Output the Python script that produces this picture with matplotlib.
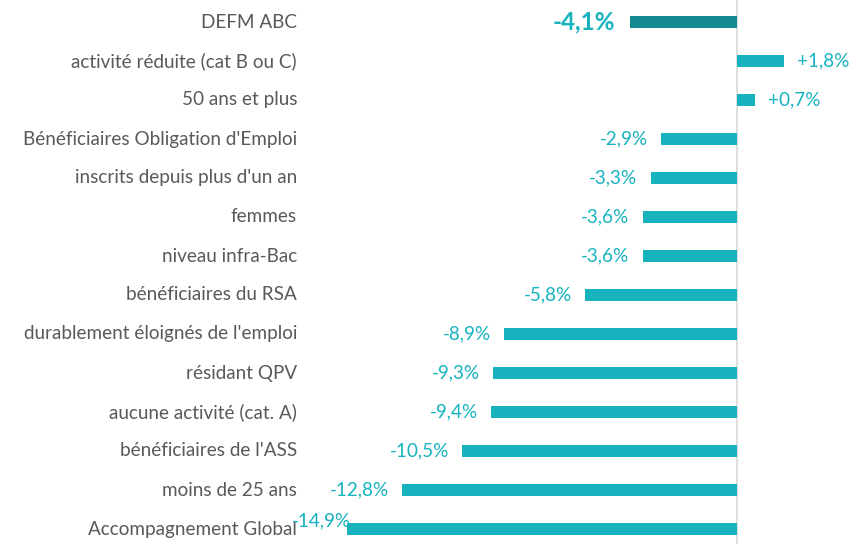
import matplotlib.pyplot as plt

plt.rcParams['font.family'] = ['Lato', 'DejaVu Sans']

categories = ["DEFM ABC", "activité réduite (cat B ou C)", "50 ans et plus",
              "Bénéficiaires Obligation d'Emploi", "inscrits depuis plus d'un an",
              "femmes", "niveau infra-Bac", "bénéficiaires du RSA",
              "durablement éloignés de l'emploi", "résidant QPV",
              "aucune activité (cat. A)", "bénéficiaires de l'ASS",
              "moins de 25 ans", "Accompagnement Global"]
values = [-4.1, 1.8, 0.7, -2.9, -3.3, -3.6, -3.6, -5.8, -8.9, -9.3, -9.4, -10.5, -12.8, -14.9]

teal = '#16b3bf'
dark = '#128a8f'
grey_txt = '#595959'

fig = plt.figure(figsize=(8.66, 5.44), dpi=100)
W, H = 866, 544
left_px, right_px = 300, 860
zero_px, scale = 737, 26.2
ax = fig.add_axes([left_px / W, 0, (right_px - left_px) / W, 1])
ax.set_xlim(-(zero_px - left_px) / scale, (right_px - zero_px) / scale)
ax.set_ylim(13 + (H - 529) / 39.0, -22 / 39.0)

ypos = list(range(len(categories)))
colors = [dark] + [teal] * (len(values) - 1)
ax.barh(ypos, values, height=0.32, color=colors)
ax.axvline(0, color='#d9d9d9', lw=1.2, zorder=0)

for i, (cat, v) in enumerate(zip(categories, values)):
    ax.text(-(zero_px - 297) / scale, i, cat, ha='right', va='center',
            fontsize=13.6, color=grey_txt)
    lab = ('+' if v > 0 else '') + ('%.1f' % v).replace('.', ',') + '%'
    off = 0.5
    if i == 0:
        ax.text(v - 0.55, i, lab, ha='right', va='center', fontsize=17.5,
                fontweight='bold', color=teal)
    elif i == len(values) - 1:
        # squeezed against the category label, as in the original
        ax.text(v + 0.15, i - 0.22, lab, ha='right', va='center',
                fontsize=13.6, color=teal)
    elif v > 0:
        ax.text(v + off, i, lab, ha='left', va='center', fontsize=13.6, color=teal)
    else:
        ax.text(v - off, i, lab, ha='right', va='center', fontsize=13.6, color=teal)

ax.axis('off')
fig.savefig('out.png', dpi=100)
